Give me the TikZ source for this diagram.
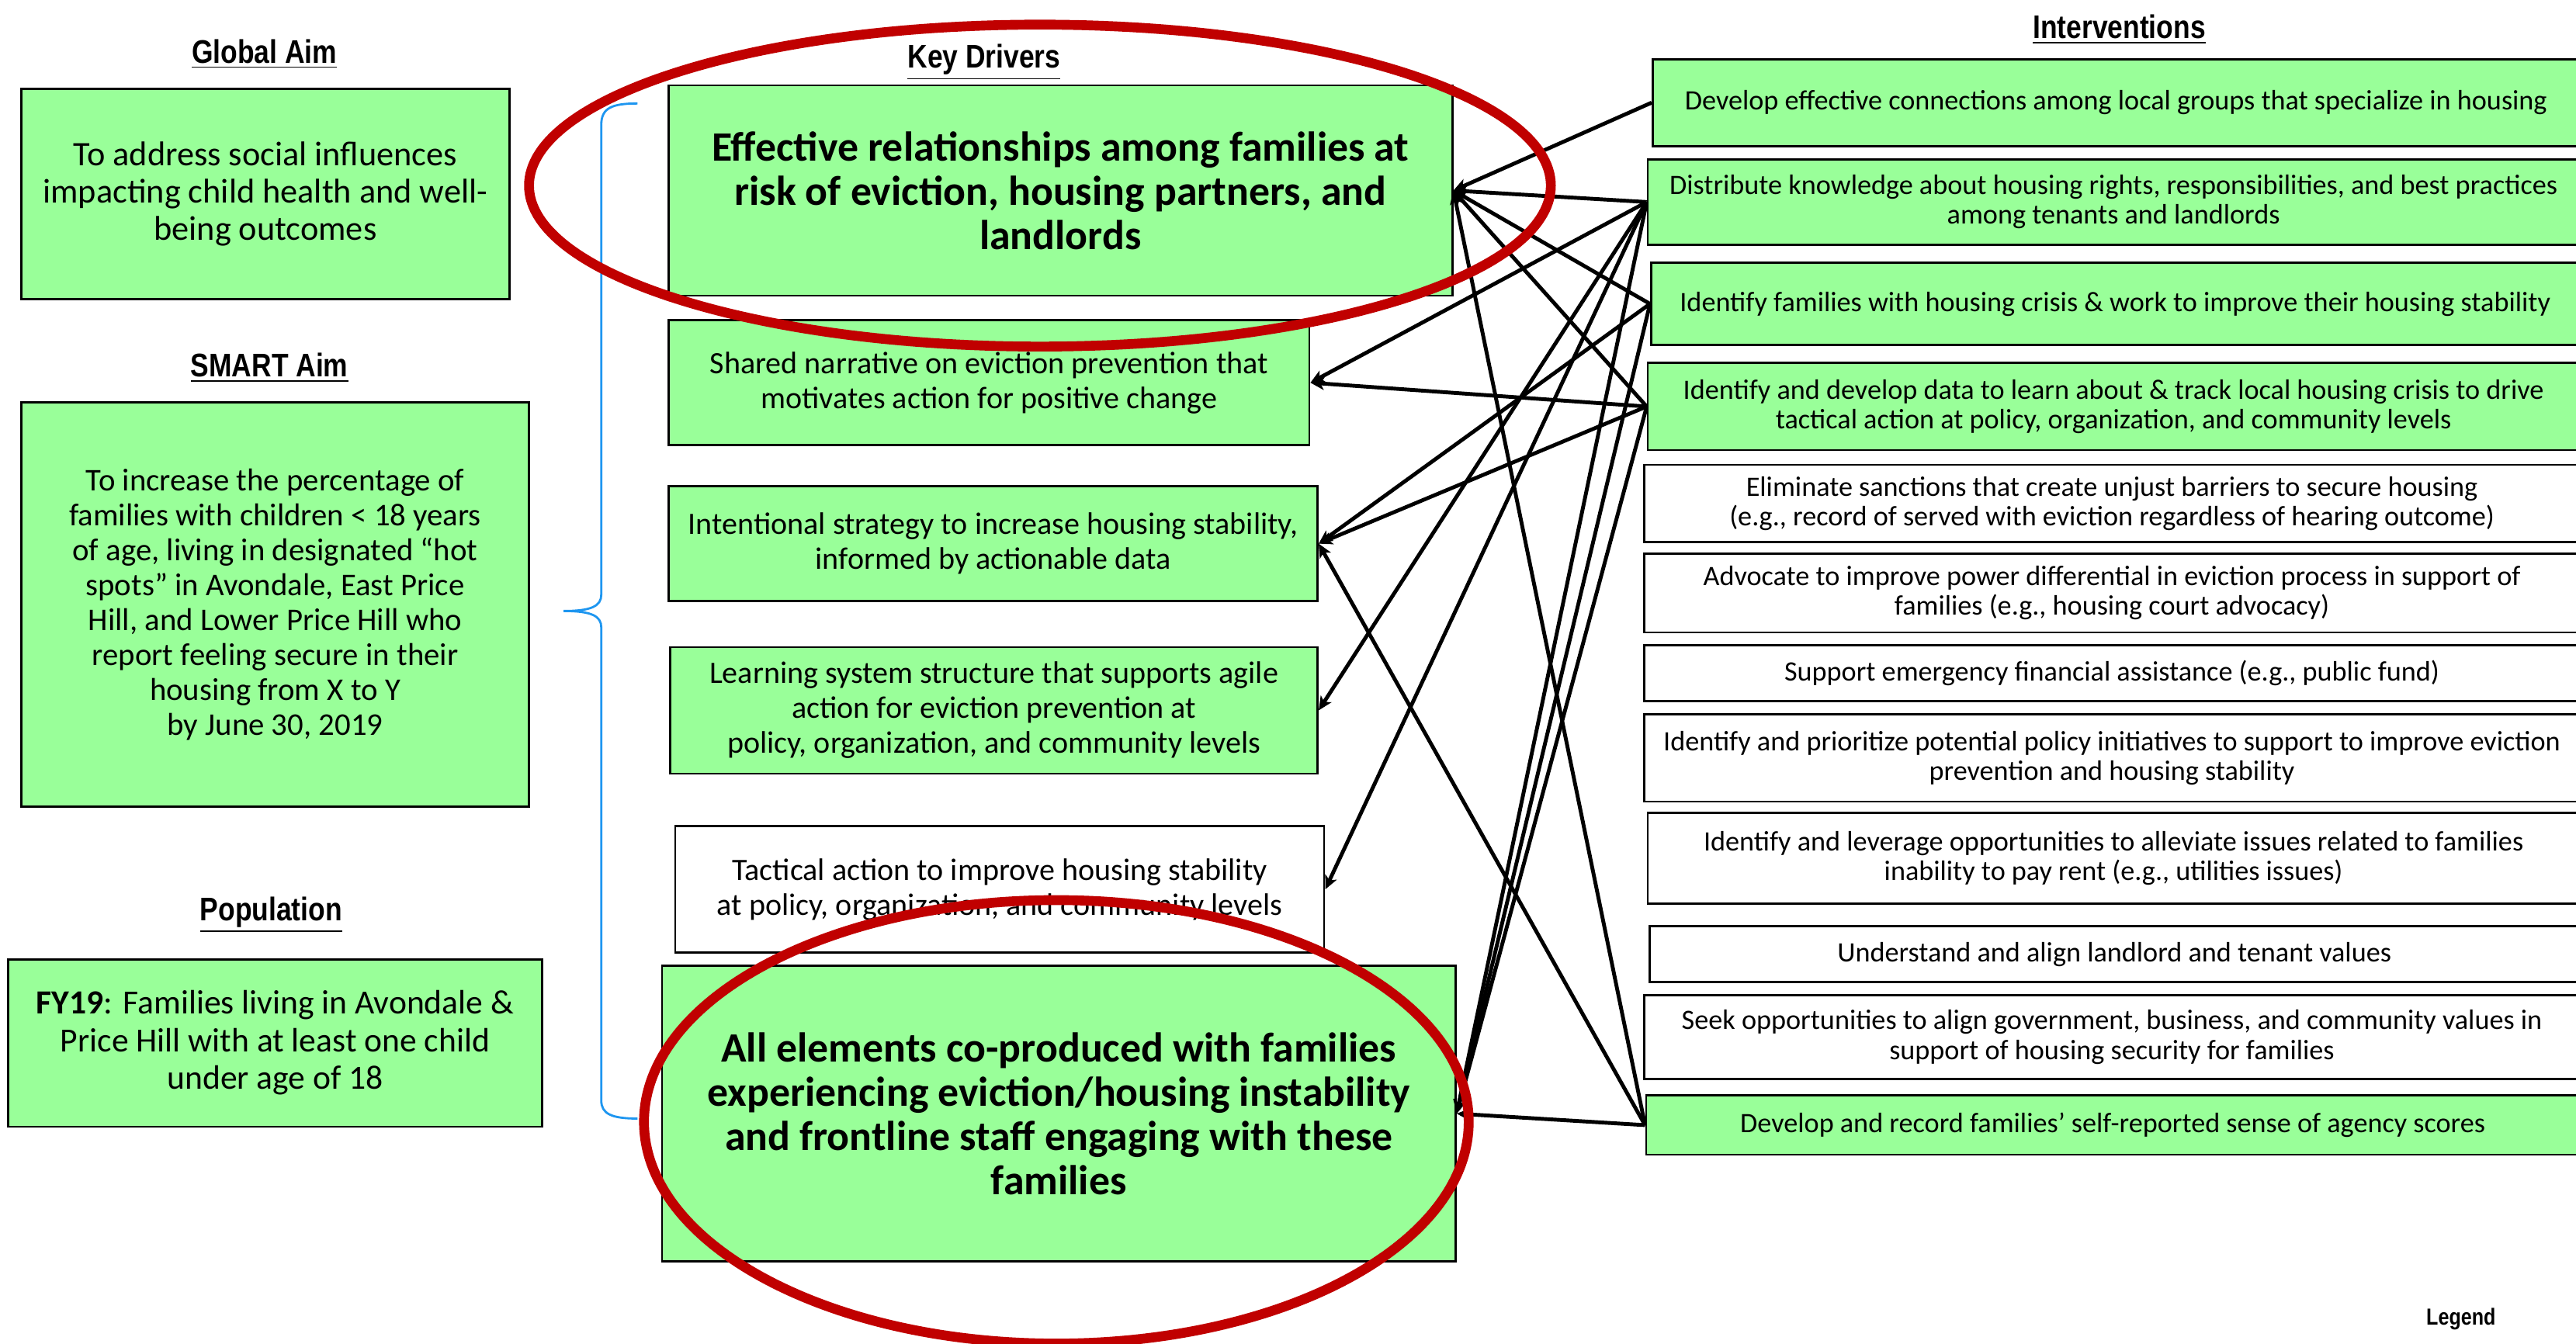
\documentclass[tikz,border=0pt]{standalone}
\usepackage{fontspec}
\setmainfont{Carlito}
\newfontfamily\hdr[FakeStretch=0.84]{Liberation Sans}
\usetikzlibrary{arrows.meta}
\definecolor{kgreen}{RGB}{153,255,153}
\definecolor{kred}{RGB}{192,0,0}
\definecolor{kblue}{RGB}{30,150,240}
\def\pxu{0.0211671cm}
\begin{document}
\begin{tikzpicture}[x=0.0211671cm, y=-0.0211671cm,
  sz/.style 2 args={minimum width=#1*\pxu, minimum height=#2*\pxu},
  gbox/.style={draw=black, line width=0.8pt, fill=kgreen, align=center, inner sep=0pt},
  wbox/.style={draw=black, line width=0.8pt, fill=white, align=center, inner sep=0pt},
  hdrtext/.style={font=\hdr\bfseries\fontsize{12}{14}\selectfont, inner sep=0pt},
  aimtext/.style={font=\fontsize{12.6}{13.6}\selectfont},
  poptext/.style={font=\fontsize{12.4}{13.8}\selectfont},
  midtext/.style={font=\fontsize{11.4}{12.8}\selectfont},
  smarttext/.style={font=\fontsize{11.6}{12.8}\selectfont},
  kdbig/.style={font=\bfseries\fontsize{15.3}{16.2}\selectfont},
  inttext/.style={font=\fontsize{10.3}{10.9}\selectfont},
  arr/.style={line width=1.4pt, -{Stealth[length=5pt,width=4.6pt,inset=1.3pt]}},
  ring/.style={draw=kred, line width=3.6pt},
  brace/.style={draw=kblue, line width=0.8pt}
]
\useasboundingbox (0,0) rectangle (1568,818);
\fill[white] (0,0) rectangle (1568,818);

% headers
\node[hdrtext] (hga) at (161,33) {\underline{Global Aim}};
\node[hdrtext] (hsa) at (164,224) {\underline{SMART Aim}};
\node[hdrtext] (hpop) at (165,557) {\underline{Population}};
\node[hdrtext] (hkd) at (599,38) {\underline{Key Drivers}};
\node[hdrtext] (hint) at (1290,18) {\underline{Interventions}};
\node[font=\hdr\bfseries\fontsize{8.5}{10}\selectfont, inner sep=0pt] (leg) at (1498,803) {Legend};

% left column
\node[gbox, sz={297}{128}, aimtext] (ga) at (161.5,118) {To address social influences\\impacting child health and well-\\being outcomes};
\node[gbox, sz={309}{246}, smarttext] (sa) at (167.5,368) {To increase the percentage of\\families with children < 18 years\\of age, living in designated “hot\\spots” in Avondale, East Price\\Hill, and Lower Price Hill who\\report feeling secure in their\\housing from X to Y\\by June 30, 2019};
\node[gbox, sz={325}{102}, poptext] (pop) at (167.5,635) {\textbf{FY19}: Families living in Avondale \&\\Price Hill with at least one child\\under age of 18};

% brace
\draw[brace] (388,63) .. controls (372,63) and (366,66) .. (366,76) -- (366,362) .. controls (366,369) and (360,372) .. (343,372) .. controls (360,372) and (366,375) .. (366,382) -- (366,670) .. controls (366,678) and (372,681) .. (388,681);

% key drivers
\node[gbox, sz={477}{128}, kdbig] (kd1) at (645.5,116) {Effective relationships among families at\\risk of eviction, housing partners, and\\landlords};
\node[gbox, sz={390}{76}, midtext] (kd2) at (602,233) {Shared narrative on eviction prevention that\\motivates action for positive change};
\node[gbox, sz={395}{70}, midtext] (kd3) at (604.5,331) {Intentional strategy to increase housing stability,\\informed by actionable data};
\node[gbox, sz={394}{77}, midtext] (kd4) at (605,432.5) {Learning system structure that supports agile\\action for eviction prevention at\\policy, organization, and community levels};
\node[wbox, sz={395}{77}, midtext] (kd5) at (608.5,541.5) {Tactical action to improve housing stability\\at policy, organization, and community levels};
\node[gbox, sz={483}{180}, kdbig] (kd6) at (644.5,678) {All elements co-produced with families\\experiencing eviction/housing instability\\and frontline staff engaging with these\\families};

% interventions
\node[gbox, sz={564}{53}, inttext] (i1) at (1288,62.5) {Develop effective connections among local groups that specialize in housing};
\node[gbox, sz={567}{52}, inttext] (i2) at (1286.5,123) {Distribute knowledge about housing rights, responsibilities, and best practices\\among tenants and landlords};
\node[gbox, sz={565}{50}, inttext] (i3) at (1287.5,185) {Identify families with housing crisis \& work to improve their housing stability};
\node[gbox, sz={567}{53}, inttext] (i4) at (1286.5,247.5) {Identify and develop data to learn about \& track local housing crisis to drive\\tactical action at policy, organization, and community levels};
\node[wbox, sz={569}{47}, inttext] (i5) at (1285.5,306.5) {Eliminate sanctions that create unjust barriers to secure housing\\(e.g., record of served with eviction regardless of hearing outcome)};
\node[wbox, sz={569}{48}, inttext] (i6) at (1285.5,361) {Advocate to improve power differential in eviction process in support of\\families (e.g., housing court advocacy)};
\node[wbox, sz={569}{34}, inttext] (i7) at (1285.5,410) {Support emergency financial assistance (e.g., public fund)};
\node[wbox, sz={569}{53}, inttext] (i8) at (1285.5,461.5) {Identify and prioritize potential policy initiatives to support to improve eviction\\prevention and housing stability};
\node[wbox, sz={567}{55}, inttext] (i9) at (1286.5,522.5) {Identify and leverage opportunities to alleviate issues related to families\\inability to pay rent (e.g., utilities issues)};
\node[wbox, sz={566}{34}, inttext] (i10) at (1287,581) {Understand and align landlord and tenant values};
\node[wbox, sz={569}{51}, inttext] (i11) at (1285.5,631.5) {Seek opportunities to align government, business, and community values in\\support of housing security for families};
\node[gbox, sz={568}{36}, inttext] (i12) at (1286,685) {Develop and record families’ self-reported sense of agency scores};

% connectors
\draw[arr] (i1.west) -- (kd1.east);
\draw[arr] (i2.west) -- (kd1.east);
\draw[arr] (i2.west) -- (kd2.east);
\draw[arr] (i2.west) -- (kd4.east);
\draw[arr] (i2.west) -- (kd5.east);
\draw[arr] (i2.west) -- (kd6.east);
\draw[arr] (i3.west) -- (kd1.east);
\draw[arr] (i3.west) -- (kd3.east);
\draw[arr] (i3.west) -- (kd6.east);
\draw[arr] (i4.west) -- (kd1.east);
\draw[arr] (i4.west) -- (kd2.east);
\draw[arr] (i4.west) -- (kd3.east);
\draw[arr] (i4.west) -- (kd6.east);
\draw[arr] (i12.west) -- (kd1.east);
\draw[arr] (i12.west) -- (kd3.east);
\draw[arr] (i12.west) -- (kd6.east);

% red highlight rings
\draw[ring] (633,113) ellipse [x radius=311, y radius=98];
\draw[ring] (643,683) ellipse [x radius=251, y radius=135];
\end{tikzpicture}
\end{document}
